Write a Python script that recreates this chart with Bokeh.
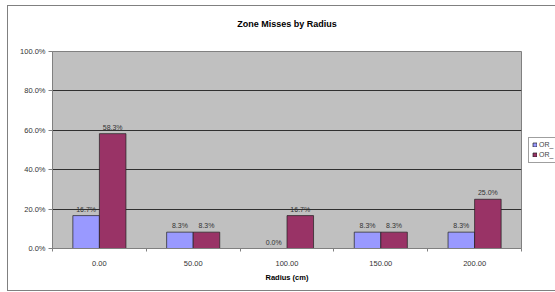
import numpy as np
from bokeh.plotting import figure
from bokeh.models import (ColumnDataSource, FixedTicker, PrintfTickFormatter,
                          Legend, LegendItem, Range1d, Title)
from bokeh.embed import file_html
from bokeh.resources import INLINE
from bokeh.core.properties import value

categories = ["0.00", "50.00", "100.00", "150.00", "200.00"]
series_names = ["OR_", "OR_"]
series1 = [16.7, 8.3, 0.0, 8.3, 8.3]
series2 = [58.3, 8.3, 16.7, 8.3, 25.0]
y_ticks = [0, 20, 40, 60, 80, 100]
title_text = "Zone Misses by Radius"

colors = ["#9999FF", "#993366"]
n = len(categories)
centers = np.arange(n) + 0.5
bw = 0.283

p = figure(frame_width=469, frame_height=197, output_backend="svg", toolbar_location=None,
           x_range=Range1d(0, n), y_range=Range1d(0, 100),
           min_border_left=44, min_border_right=34, min_border_top=45,
           min_border_bottom=42, title=None,
           margin=(6, 0, 0, 8))
p.styles = {"outline": "1px solid #808080"}
p.background_fill_color = "#C0C0C0"
p.border_fill_color = "white"
p.outline_line_color = "#808080"
p.outline_line_width = 1

# spacer (closest to frame), then the real title above it
spacer = Title(text=" ", text_font_size="1px", standoff=10)
p.add_layout(spacer, "above")
main_title = Title(text=title_text, align="center", text_font="Liberation Sans",
                   text_font_size="9px", text_font_style="bold", text_color="black",
                   standoff=20)
p.add_layout(main_title, "above")

renderers = []
for vals, off, col in [(series1, -bw / 2, colors[0]), (series2, bw / 2, colors[1])]:
    src = ColumnDataSource(dict(x=centers + off, top=vals,
                                lab=["%.1f%%" % v for v in vals]))
    r = p.vbar(x="x", top="top", width=bw, source=src, fill_color=col,
               line_color="#202020", line_width=0.7)
    renderers.append(r)
    p.text(x="x", y="top", text="lab", source=src, text_align="center",
           text_baseline="bottom", y_offset=-3, text_font=value("Liberation Sans"),
           text_font_size="7px", text_color="#333333")

# axes
p.xaxis.ticker = FixedTicker(ticks=list(centers), minor_ticks=list(range(n + 1)))
p.xaxis.major_label_overrides = {float(c): lab for c, lab in zip(centers, categories)}
p.xaxis.major_tick_line_color = None
p.xaxis.minor_tick_line_color = "#808080"
p.xaxis.minor_tick_in = 0
p.xaxis.minor_tick_out = 3
p.xaxis.axis_line_color = "#808080"
p.xaxis.major_label_text_font = "Liberation Sans"
p.xaxis.major_label_text_font_size = "7.5px"
p.xaxis.major_label_text_color = "#333333"
p.xaxis.major_label_standoff = 6
p.xaxis.axis_label = "Radius (cm)"
p.xaxis.axis_label_text_font = "Liberation Sans"
p.xaxis.axis_label_text_font_size = "7.5px"
p.xaxis.axis_label_text_font_style = "bold"
p.xaxis.axis_label_text_color = "black"
p.xaxis.axis_label_standoff = 4

p.yaxis.ticker = FixedTicker(ticks=y_ticks, minor_ticks=[])
p.yaxis.formatter = PrintfTickFormatter(format="%.1f%%")
p.yaxis.major_tick_in = 0
p.yaxis.major_tick_out = 4
p.yaxis.major_tick_line_color = "#808080"
p.yaxis.axis_line_color = "#808080"
p.yaxis.major_label_text_font = "Liberation Sans"
p.yaxis.major_label_text_font_size = "7.5px"
p.yaxis.major_label_text_color = "#333333"
p.yaxis.major_label_standoff = 3

p.xgrid.grid_line_color = None
p.ygrid.ticker = FixedTicker(ticks=y_ticks)
p.ygrid.grid_line_color = "#303030"
p.ygrid.grid_line_width = 1

legend = Legend(items=[LegendItem(label=series_names[i], renderers=[renderers[i]])
                       for i in range(2)],
                location="center_left", orientation="vertical",
                label_text_font="Liberation Sans", label_text_font_size="7px",
                label_height=8, glyph_height=5, glyph_width=5, spacing=2,
                padding=3, margin=7, label_standoff=2,
                border_line_color="#404040", background_fill_color="white",
                background_fill_alpha=1)
p.add_layout(legend, "right")

open("out.html", "w").write(file_html(p, INLINE))
